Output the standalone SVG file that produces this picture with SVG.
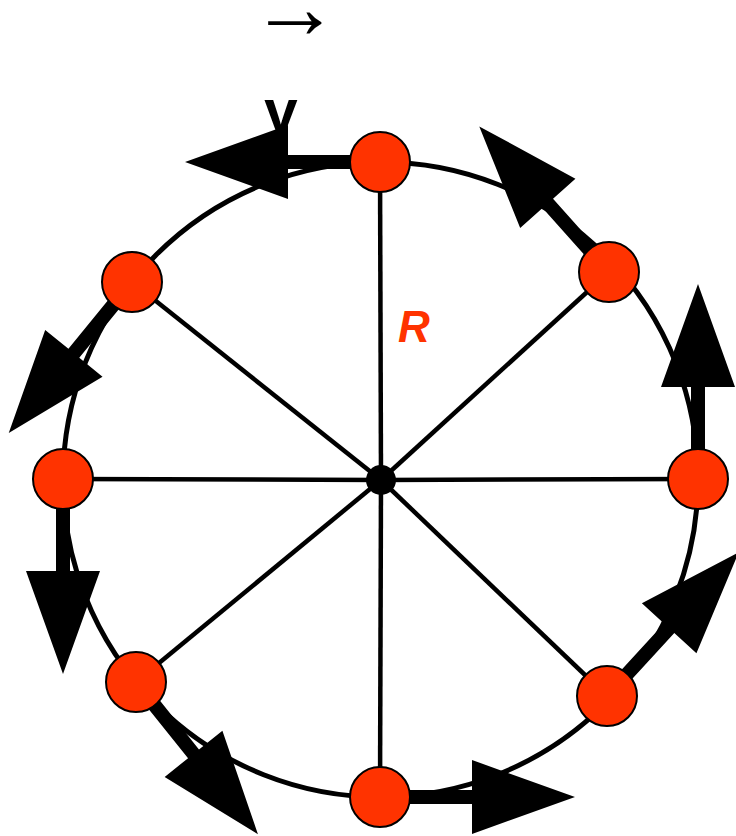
<svg xmlns="http://www.w3.org/2000/svg" xmlns:xlink="http://www.w3.org/1999/xlink" width="736" height="836" viewBox="0 0 736 836">
<style>
.ring{fill:none;stroke:#000;stroke-width:5}
.spoke{stroke:#000;stroke-width:4.5}
.node{fill:#ff3300;stroke:#000;stroke-width:2}
.lbl{font-family:"Liberation Sans",Arial,sans-serif}
</style>
<defs>
<path id="arr" d="M0,-7 L92,-7 L92,-37 L195,0 L92,37 L92,7 L0,7 Z" fill="#000"/>
</defs>
<rect width="736" height="836" fill="#fff"/>
<circle class="ring" cx="380.5" cy="479.5" r="317.5"/>
<g id="connectors">
<line class="spoke" x1="381" y1="480" x2="380" y2="162"/>
<line class="spoke" x1="381" y1="480" x2="609" y2="272"/>
<line class="spoke" x1="381" y1="480" x2="698" y2="479"/>
<line class="spoke" x1="381" y1="480" x2="607" y2="696"/>
<line class="spoke" x1="381" y1="480" x2="380" y2="797"/>
<line class="spoke" x1="381" y1="480" x2="136" y2="682"/>
<line class="spoke" x1="381" y1="480" x2="63" y2="479"/>
<line class="spoke" x1="381" y1="480" x2="132" y2="282"/>
<use xlink:href="#arr" transform="translate(380,162) rotate(180)"/>
<use xlink:href="#arr" transform="translate(609,272) rotate(228.3)"/>
<use xlink:href="#arr" transform="translate(698,479) rotate(-90)"/>
<use xlink:href="#arr" transform="translate(607,696) rotate(-47.5)"/>
<use xlink:href="#arr" transform="translate(380,797) rotate(0)"/>
<use xlink:href="#arr" transform="translate(136,682) rotate(51.3)"/>
<use xlink:href="#arr" transform="translate(63,479) rotate(90)"/>
<use xlink:href="#arr" transform="translate(132,282) rotate(129.2)"/>
</g>
<g id="center"><circle cx="381" cy="480" r="15" fill="#000"/></g>
<g id="n1"><circle class="node" cx="380" cy="162" r="30"/></g>
<g id="n2"><circle class="node" cx="609" cy="272" r="30"/></g>
<g id="n3"><circle class="node" cx="698" cy="479" r="30"/></g>
<g id="n4"><circle class="node" cx="607" cy="696" r="30"/></g>
<g id="n5"><circle class="node" cx="380" cy="797" r="30"/></g>
<g id="n6"><circle class="node" cx="136" cy="682" r="30"/></g>
<g id="n7"><circle class="node" cx="63" cy="479" r="30"/></g>
<g id="n8"><circle class="node" cx="132" cy="282" r="30"/></g>
<text class="lbl" x="295" y="38" font-size="90" text-anchor="middle">→</text>
<text class="lbl" x="281" y="131" font-size="60" font-weight="bold" text-anchor="middle">v</text>
<text class="lbl" x="398" y="342" font-size="44" font-weight="bold" font-style="italic" fill="#ff3300">R</text>
</svg>
